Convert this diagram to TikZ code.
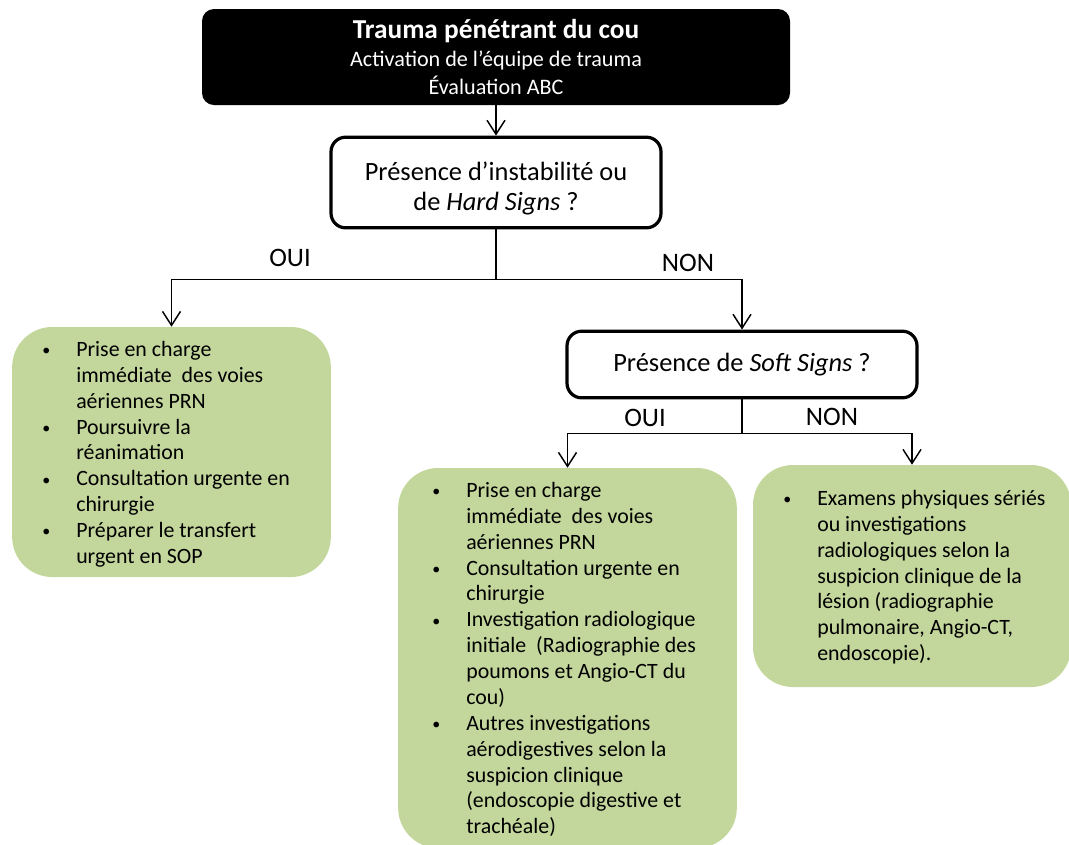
\documentclass[tikz,border=0pt]{standalone}
\usepackage{fontspec}
\setmainfont{Carlito}
\usetikzlibrary{arrows.meta}
\definecolor{leaf}{HTML}{C3D69B}
\tikzset{
  conn/.style={line width=1.1pt, draw=black},
  arr/.style={conn, -{Straight Barb[length=10.5pt,width=13.5pt]}},
  headbox/.style={rectangle, rounded corners=9pt, fill=black, text=white,
    minimum width=441pt, minimum height=72pt, inner sep=0pt, align=center,
    font=\fontsize{16.6}{21}\selectfont},
  askbox/.style={rectangle, rounded corners=11pt, draw=black, line width=2.4pt,
    fill=white, inner sep=0pt, align=center, font=\fontsize{19.8}{22.5}\selectfont},
  leafbox/.style={rectangle, rounded corners=30pt, fill=leaf, inner sep=0pt},
  listtext/.style={anchor=north west, inner sep=0pt, align=left,
    font=\fontsize{16.4}{19.4}\selectfont},
  branch/.style={font=\fontsize{20}{22}\selectfont, inner sep=0pt},
}
\newcommand\itm{\llap{\raisebox{0.5pt}{\fontsize{12}{12}\selectfont •}\hspace{19.5pt}}}
\begin{document}
\begin{tikzpicture}[x=0.75pt,y=-0.75pt]
\useasboundingbox (0,0) rectangle (1069,844);

% header
\node[headbox] (top) at (496,57)
  {{\fontsize{20.5}{21}\selectfont\bfseries Trauma pénétrant du cou}\\
   Activation de l’équipe de trauma\\
   Évaluation ABC};

% questions
\node[askbox, minimum width=247.5pt, minimum height=68pt] (q1) at (496,182.5)
  {\rule{0pt}{22.5pt}Présence d’instabilité ou\\ de \textit{Hard Signs} ?};
\node[askbox, minimum width=262.5pt, minimum height=50pt] (q2) at (742,364.5)
  {Présence de \textit{Soft Signs} ?};

% outcome boxes
\node[leafbox, minimum width=239pt, minimum height=187.5pt] (g1) at (171.5,452) {};
\node[leafbox, minimum width=254pt, minimum height=285pt] (g2) at (567.5,658) {};
\node[leafbox, minimum width=238.5pt, minimum height=166.5pt] (g3) at (912,576) {};

\node[listtext] (t1) at (76,341) {%
  \itm Prise en charge\\
  immédiate \ des voies\\
  aériennes PRN\\
  \itm Poursuivre la\\
  réanimation\\
  \itm Consultation urgente en\\
  chirurgie\\
  \itm Préparer le transfert\\
  urgent en SOP};

\node[listtext] (t2) at (466,482) {%
  \itm Prise en charge\\
  immédiate \ des voies\\
  aériennes PRN\\
  \itm Consultation urgente en\\
  chirurgie\\
  \itm Investigation radiologique\\
  initiale \ (Radiographie des\\
  poumons et Angio-CT du\\
  cou)\\
  \itm Autres investigations\\
  aérodigestives selon la\\
  suspicion clinique\\
  (endoscopie digestive et\\
  trachéale)};

\node[listtext] (t3) at (817,490) {%
  \itm Examens physiques sériés\\
  ou investigations\\
  radiologiques selon la\\
  suspicion clinique de la\\
  lésion (radiographie\\
  pulmonaire, Angio-CT,\\
  endoscopie).};

% connectors
\draw[arr] (top) -- (q1);
\draw[conn] (q1.south) -- ++(0,50) coordinate (j1);
\draw[arr] (j1) -| (g1.north);
\draw[arr] (j1) -| (q2.north);
\draw[conn] (q2.south) -- ++(0,34) coordinate (j2);
\draw[arr] (j2) -| (g2.north);
\draw[arr] (j2) -| (g3.north);

% branch labels
\node[branch] (oui1) at (290,258) {OUI};
\node[branch] (non1) at (688,263) {NON};
\node[branch] (oui2) at (645,418) {OUI};
\node[branch] (non2) at (832,417) {NON};
\end{tikzpicture}
\end{document}
